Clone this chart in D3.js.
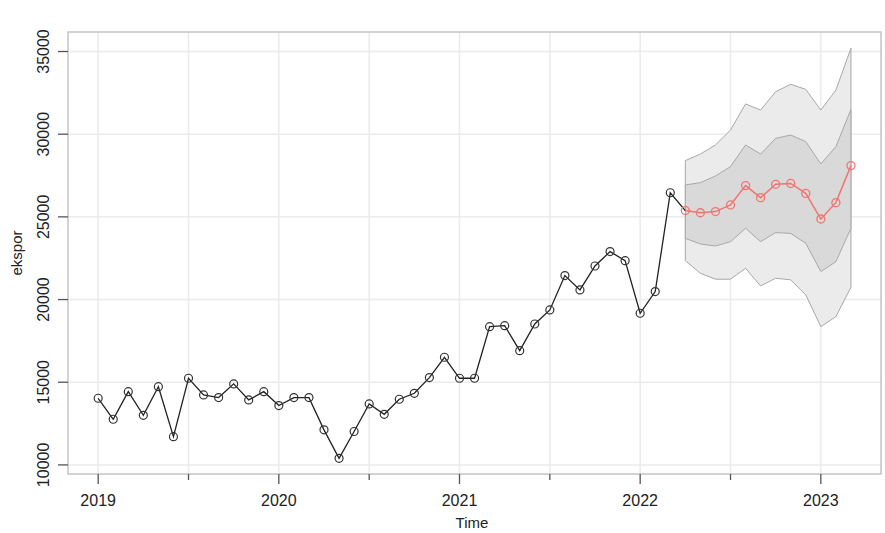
<!DOCTYPE html>
<html>
<head>
<meta charset="utf-8">
<script src="https://cdn.jsdelivr.net/npm/d3@7"></script>
<style>
body { margin: 0; background: #fff; }
text { font-family: "Liberation Sans", Arial, sans-serif; fill: #222; }
</style>
</head>
<body>
<div id="chart"></div>
<script>
// monthly series, starting Jan 2019
var startYear = 2019;
var ekspor = [14030, 12760, 14430, 13000, 14730, 11710, 15240, 14230, 14070, 14900, 13930, 14430,
	13590, 14070, 14070, 12120, 10400, 12020, 13690, 13060, 13970, 14330, 15280, 16510,
	15240, 15240, 18360, 18420, 16910, 18520, 19370, 21450, 20580, 22030, 22900, 22350,
	19170, 20480, 26460];
// forecast Apr 2022 - Mar 2023
var fcMean = [25380, 25250, 25320, 25720, 26890, 26160, 26970, 27020, 26420, 24870, 25860, 28100];
var lo80 = [23700, 23360, 23240, 23500, 24310, 23500, 24050, 24000, 23400, 21690, 22290, 24310];
var hi80 = [26930, 27070, 27470, 28040, 29350, 28800, 29750, 29950, 29550, 28200, 29250, 31500];
var lo95 = [22350, 21590, 21230, 21230, 21890, 20820, 21290, 21190, 20280, 18360, 18970, 20740];
var hi95 = [28400, 28800, 29350, 30250, 31830, 31460, 32570, 33020, 32710, 31460, 32670, 35200];
var yTicks = [10000, 15000, 20000, 25000, 30000, 35000];
var xTicks = [2019, 2020, 2021, 2022, 2023];

function plot() {
	var width = 885, height = 533;
	var left = 68, right = 881, top = 32, bottom = 474;

	var svg = d3.select("#chart").append("svg")
		.attr("width", width)
		.attr("height", height);

	var nObs = ekspor.length;
	var tObs = ekspor.map(function(d, i) { return startYear + i / 12; });
	var tFc = fcMean.map(function(d, i) { return startYear + (nObs + i) / 12; });

	var x = d3.scaleLinear()
		.domain([2018.833, 2023.333])
		.range([left, right]);
	var y = d3.scaleLinear()
		.domain([9450, 36180])
		.range([bottom, top]);

	// grid
	var halfYears = d3.range(2019, 2023.01, 0.5);
	svg.append("g").selectAll("line").data(halfYears).enter().append("line")
		.attr("x1", function(d) { return x(d); }).attr("x2", function(d) { return x(d); })
		.attr("y1", top).attr("y2", bottom)
		.attr("stroke", "#ebebeb").attr("stroke-width", 1.5);
	svg.append("g").selectAll("line").data(yTicks).enter().append("line")
		.attr("y1", function(d) { return y(d); }).attr("y2", function(d) { return y(d); })
		.attr("x1", left).attr("x2", right)
		.attr("stroke", "#ebebeb").attr("stroke-width", 1.5);

	// prediction bands
	var area = d3.area()
		.x(function(d) { return x(d.t); })
		.y0(function(d) { return y(d.lo); })
		.y1(function(d) { return y(d.hi); });
	var b95 = tFc.map(function(t, i) { return {t: t, lo: lo95[i], hi: hi95[i]}; });
	var b80 = tFc.map(function(t, i) { return {t: t, lo: lo80[i], hi: hi80[i]}; });
	svg.append("path").datum(b95).attr("d", area)
		.attr("fill", "#ebebeb").attr("stroke", "#a8a8a8").attr("stroke-width", 1);
	svg.append("path").datum(b80).attr("d", area)
		.attr("fill", "#d9d9d9").attr("stroke", "#a8a8a8").attr("stroke-width", 1);

	var line = d3.line()
		.x(function(d) { return x(d.t); })
		.y(function(d) { return y(d.v); });

	var obs = tObs.map(function(t, i) { return {t: t, v: ekspor[i]}; });
	var fc = tFc.map(function(t, i) { return {t: t, v: fcMean[i]}; });

	svg.append("path").datum(obs.concat([fc[0]])).attr("d", line)
		.attr("fill", "none").attr("stroke", "#222").attr("stroke-width", 1.3);
	svg.append("g").selectAll("circle").data(obs).enter().append("circle")
		.attr("cx", function(d) { return x(d.t); }).attr("cy", function(d) { return y(d.v); })
		.attr("r", 4).attr("fill", "none").attr("stroke", "#333").attr("stroke-width", 1.2);

	svg.append("path").datum(fc).attr("d", line)
		.attr("fill", "none").attr("stroke", "#f07570").attr("stroke-width", 1.5);
	svg.append("g").selectAll("circle").data(fc).enter().append("circle")
		.attr("cx", function(d) { return x(d.t); }).attr("cy", function(d) { return y(d.v); })
		.attr("r", 4).attr("fill", "none").attr("stroke", "#f07570").attr("stroke-width", 1.3);

	// frame
	svg.append("rect")
		.attr("x", left).attr("y", top)
		.attr("width", right - left).attr("height", bottom - top)
		.attr("fill", "none").attr("stroke", "#c4c4c4").attr("stroke-width", 1.5);

	// x axis
	svg.append("g").selectAll("line").data(halfYears).enter().append("line")
		.attr("x1", function(d) { return x(d); }).attr("x2", function(d) { return x(d); })
		.attr("y1", bottom)
		.attr("y2", function(d) { return d % 1 === 0 ? bottom + 10 : bottom + 6; })
		.attr("stroke", "#555").attr("stroke-width", 1.3);
	svg.append("g").selectAll("text").data(xTicks).enter().append("text")
		.attr("x", function(d) { return x(d); }).attr("y", 506)
		.attr("text-anchor", "middle").style("font-size", "16px")
		.text(function(d) { return d; });
	svg.append("text").attr("x", 472).attr("y", 528)
		.attr("text-anchor", "middle").style("font-size", "15px").text("Time");

	// y axis
	svg.append("g").selectAll("line").data(yTicks).enter().append("line")
		.attr("y1", function(d) { return y(d); }).attr("y2", function(d) { return y(d); })
		.attr("x1", left - 10).attr("x2", left)
		.attr("stroke", "#555").attr("stroke-width", 1.3);
	svg.append("g").selectAll("text").data(yTicks).enter().append("text")
		.attr("transform", function(d) { return "translate(49," + y(d) + ") rotate(-90)"; })
		.attr("text-anchor", "middle").style("font-size", "16px")
		.text(function(d) { return d; });
	svg.append("text")
		.attr("transform", "translate(22," + ((top + bottom) / 2) + ") rotate(-90)")
		.attr("text-anchor", "middle").style("font-size", "15px").text("ekspor");
}

document.addEventListener("DOMContentLoaded", function() {
	plot();
});
</script>
</body>
</html>
